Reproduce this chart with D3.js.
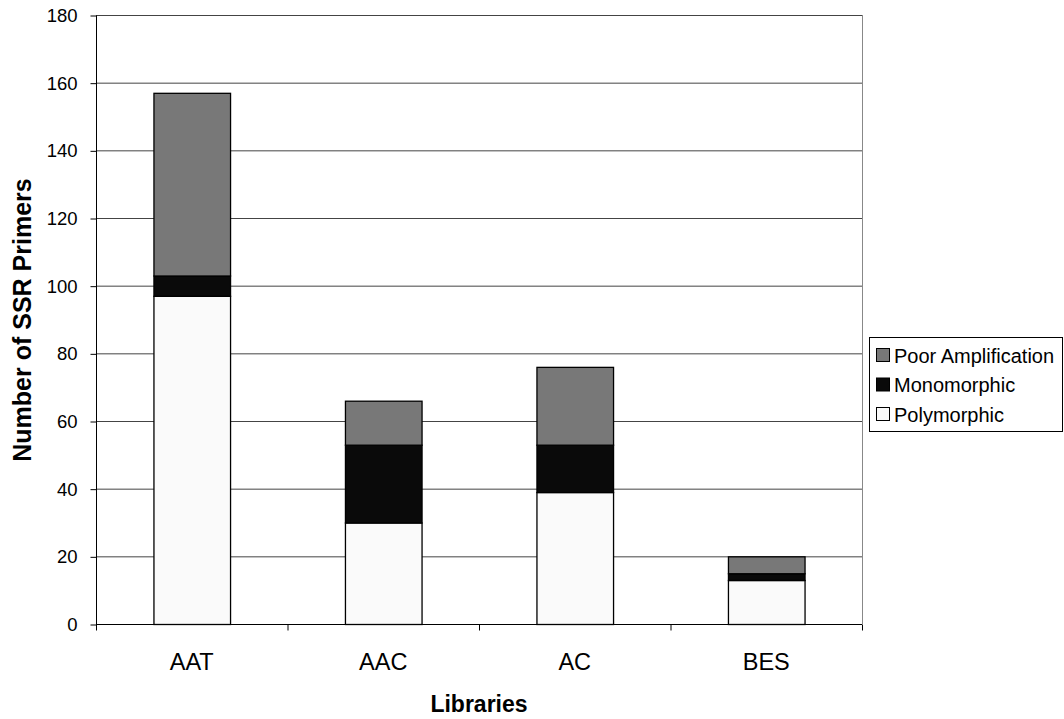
<!DOCTYPE html>
<html><head><meta charset="utf-8">
<script src="https://cdn.jsdelivr.net/npm/d3@7"></script>
<style>body{margin:0;background:#fff;} svg{display:block;font-family:"Liberation Sans",Arial,sans-serif;}</style>
</head><body>
<svg id="c" width="1064" height="719"></svg>
<script>
const categories = ["AAT", "AAC", "AC", "BES"];
const polymorphic = [97, 30, 39, 13];
const monomorphic = [6, 23, 14, 2];
const poorAmplification = [54, 13, 23, 5];
const seriesNames = ["Polymorphic", "Monomorphic", "Poor Amplification"];
const seriesColors = ["#fafafa", "#0a0a0a", "#787878"];
const yTicks = [0, 20, 40, 60, 80, 100, 120, 140, 160, 180];

const svg = d3.select("#c");
const L = 96, R = 862, T = 15, B = 624;
const x = d3.scaleBand().domain(categories).range([L, R]).paddingInner(0).paddingOuter(0);
const y = d3.scaleLinear().domain([0, 180]).range([B, T]);

const rows = categories.map((c, i) => ({cat: c, Polymorphic: polymorphic[i], Monomorphic: monomorphic[i], "Poor Amplification": poorAmplification[i]}));
const stack = d3.stack().keys(seriesNames)(rows);

// gridlines
svg.append("g").selectAll("line").data(yTicks.filter(d => d > 0)).join("line")
  .attr("x1", L).attr("x2", R).attr("y1", d => y(d) + 0.5).attr("y2", d => y(d) + 0.5)
  .attr("stroke", "#444").attr("stroke-width", 1);
// right border
svg.append("line").attr("x1", R + 0.5).attr("x2", R + 0.5).attr("y1", T).attr("y2", B)
  .attr("stroke", "#888").attr("stroke-width", 1);

// bars
const bw = x.bandwidth() * 0.40;
stack.forEach((s, si) => {
  svg.append("g").selectAll("rect").data(s).join("rect")
    .attr("x", d => x(d.data.cat) + x.bandwidth() / 2 - bw / 2 + 0.5)
    .attr("width", bw)
    .attr("y", d => y(d[1]) + 0.5)
    .attr("height", d => y(d[0]) - y(d[1]))
    .attr("fill", seriesColors[si])
    .attr("stroke", "#000").attr("stroke-width", 1.3);
});

// y axis
const ya = d3.axisLeft(y).tickValues(yTicks).tickSize(6).tickPadding(13);
const gy = svg.append("g").attr("transform", `translate(${L + 0.5},0.5)`).call(ya);
gy.select(".domain").attr("stroke", "#000").attr("d", `M0,${T}V${B}`);
gy.selectAll(".tick line").attr("stroke", "#000");
gy.selectAll("text").attr("font-size", 18.5).attr("fill", "#000").attr("font-family", '"Liberation Sans",Arial,sans-serif');

// x axis
const gx = svg.append("g").attr("transform", `translate(0,${B + 0.5})`);
gx.append("line").attr("x1", L).attr("x2", R).attr("stroke", "#000");
const bounds = categories.map(c => x(c)).concat([R]);
gx.selectAll("line.t").data(bounds).join("line").attr("class", "t")
  .attr("x1", d => d + 0.5).attr("x2", d => d + 0.5).attr("y1", 0).attr("y2", 6).attr("stroke", "#000");
gx.selectAll("text").data(categories).join("text")
  .attr("x", d => x(d) + x.bandwidth() / 2).attr("y", 45)
  .attr("text-anchor", "middle").attr("font-size", 23.5).text(d => d);

// axis titles
svg.append("text").attr("x", 479).attr("y", 712).attr("text-anchor", "middle")
  .attr("font-size", 23).attr("font-weight", "bold").text("Libraries");
svg.append("text").attr("transform", "translate(31,320) rotate(-90)").attr("text-anchor", "middle")
  .attr("font-size", 25).attr("font-weight", "bold").text("Number of SSR Primers");

// legend
const lg = svg.append("g");
lg.append("rect").attr("x", 869.5).attr("y", 337.5).attr("width", 193).attr("height", 94)
  .attr("fill", "#fff").attr("stroke", "#000");
const legItems = seriesNames.map((n, i) => ({n, c: seriesColors[i]})).reverse();
legItems.forEach((d, i) => {
  const top = 348 + i * 29.5;
  lg.append("rect").attr("x", 876.5).attr("y", top + 0.5).attr("width", 13).attr("height", 13)
    .attr("fill", d.c).attr("stroke", "#000");
  lg.append("text").attr("x", 894).attr("y", top + 14.5).attr("font-size", 20).text(d.n);
});
</script>
</body></html>
